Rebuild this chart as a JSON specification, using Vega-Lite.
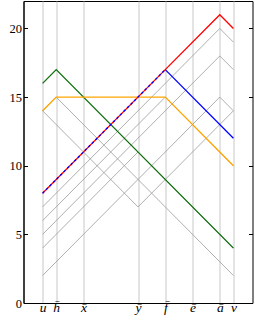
{
  "$schema": "https://vega.github.io/schema/vega-lite/v6.json",
  "width": 229,
  "height": 302,
  "autosize": {"type": "none"},
  "padding": {"left": 23.5, "top": 1, "right": 2.5, "bottom": 25},
  "config": {
    "view": {"stroke": "#000", "strokeWidth": 1},
    "axis": {"domainColor": "#000", "tickColor": "#000", "labelColor": "#000", "labelFont": "Liberation Serif", "labelFontSize": 12.5, "title": null}
  },
  "data": {"values": [
    {"s": "G1", "k": "gray", "x": 0, "y": 2}, {"s": "G1", "k": "gray", "x": 13, "y": 15}, {"s": "G1", "k": "gray", "x": 14, "y": 14},
    {"s": "G2", "k": "gray", "x": 0, "y": 4}, {"s": "G2", "k": "gray", "x": 7, "y": 11}, {"s": "G2", "k": "gray", "x": 14, "y": 4},
    {"s": "G3", "k": "gray", "x": 0, "y": 5}, {"s": "G3", "k": "gray", "x": 13, "y": 18}, {"s": "G3", "k": "gray", "x": 14, "y": 17},
    {"s": "G4", "k": "gray", "x": 0, "y": 6}, {"s": "G4", "k": "gray", "x": 9, "y": 15}, {"s": "G4", "k": "gray", "x": 14, "y": 10},
    {"s": "G5", "k": "gray", "x": 0, "y": 7}, {"s": "G5", "k": "gray", "x": 13, "y": 20}, {"s": "G5", "k": "gray", "x": 14, "y": 19},
    {"s": "G6", "k": "gray", "x": 0, "y": 14}, {"s": "G6", "k": "gray", "x": 7, "y": 7}, {"s": "G6", "k": "gray", "x": 14, "y": 14},
    {"s": "G7", "k": "gray", "x": 0, "y": 14}, {"s": "G7", "k": "gray", "x": 1, "y": 15}, {"s": "G7", "k": "gray", "x": 14, "y": 2},
    {"s": "green", "k": "green", "x": 0, "y": 16}, {"s": "green", "k": "green", "x": 1, "y": 17}, {"s": "green", "k": "green", "x": 14, "y": 4},
    {"s": "orange", "k": "orange", "x": 0, "y": 14}, {"s": "orange", "k": "orange", "x": 1, "y": 15}, {"s": "orange", "k": "orange", "x": 9, "y": 15}, {"s": "orange", "k": "orange", "x": 14, "y": 10},
    {"s": "red", "k": "red", "x": 0, "y": 8}, {"s": "red", "k": "red", "x": 9, "y": 17}, {"s": "red", "k": "red", "x": 13, "y": 21}, {"s": "red", "k": "red", "x": 14, "y": 20},
    {"s": "blue", "k": "blue", "x": 9, "y": 17}, {"s": "blue", "k": "blue", "x": 14, "y": 12},
    {"s": "bluedash", "k": "bluedash", "x": 0, "y": 8}, {"s": "bluedash", "k": "bluedash", "x": 9, "y": 17}
  ]},
  "encoding": {
    "x": {
      "field": "x", "type": "quantitative",
      "scale": {"domain": [-1.4, 15.4], "nice": false, "zero": false},
      "axis": {
        "values": [0, 1, 3, 7, 9, 11, 13, 14],
        "grid": true, "gridColor": "#c8c8c8", "gridWidth": 1,
        "ticks": false,
        "labelFontStyle": "italic",
        "labelFontSize": 13.5,
        "labelBaseline": "alphabetic",
        "labelPadding": 8,
        "labelExpr": "datum.value===0?'u':datum.value===1?'h\u0304':datum.value===3?'x\u0304':datum.value===7?'y\u0304':datum.value===9?'f\u0304':datum.value===11?'e\u0304':datum.value===13?'a\u0304':'v'",
        "encode": {"labels": {"update": {"dy": {"signal": "datum.value===0||datum.value===14?0:5"}}}}
      }
    }
  },
  "resolve": {"axis": {"y": "independent"}},
  "layer": [
    {
      "transform": [{"filter": "datum.k==='gray'"}],
      "mark": {"type": "line", "color": "#9a9a9a", "strokeWidth": 0.8},
      "encoding": {
        "detail": {"field": "s"},
        "y": {"field": "y", "type": "quantitative", "scale": {"domain": [0, 22], "nice": false},
          "axis": {"orient": "left", "values": [0, 5, 10, 15, 20], "grid": false, "tickSize": -4, "labelPadding": 6}}
      }
    },
    {
      "transform": [{"filter": "datum.k==='green'"}],
      "mark": {"type": "line", "color": "#0a6e0a", "strokeWidth": 1.3},
      "encoding": {
        "y": {"field": "y", "type": "quantitative", "scale": {"domain": [0, 22], "nice": false},
          "axis": {"orient": "right", "values": [0, 5, 10, 15, 20], "grid": false, "tickSize": -4, "labels": false, "domain": false}}
      }
    },
    {
      "transform": [{"filter": "datum.k==='orange'"}],
      "mark": {"type": "line", "color": "#ffa500", "strokeWidth": 1.3},
      "encoding": {"y": {"field": "y", "type": "quantitative", "axis": null}}
    },
    {
      "transform": [{"filter": "datum.k==='red'"}],
      "mark": {"type": "line", "color": "#ff0000", "strokeWidth": 1.3},
      "encoding": {"y": {"field": "y", "type": "quantitative", "axis": null}}
    },
    {
      "transform": [{"filter": "datum.k==='blue'"}],
      "mark": {"type": "line", "color": "#0000ff", "strokeWidth": 1.3},
      "encoding": {"y": {"field": "y", "type": "quantitative", "axis": null}}
    },
    {
      "transform": [{"filter": "datum.k==='bluedash'"}],
      "mark": {"type": "line", "color": "#0000ff", "strokeWidth": 1.3, "strokeDash": [2.5, 2.5]},
      "encoding": {"y": {"field": "y", "type": "quantitative", "axis": null}}
    }
  ]
}
